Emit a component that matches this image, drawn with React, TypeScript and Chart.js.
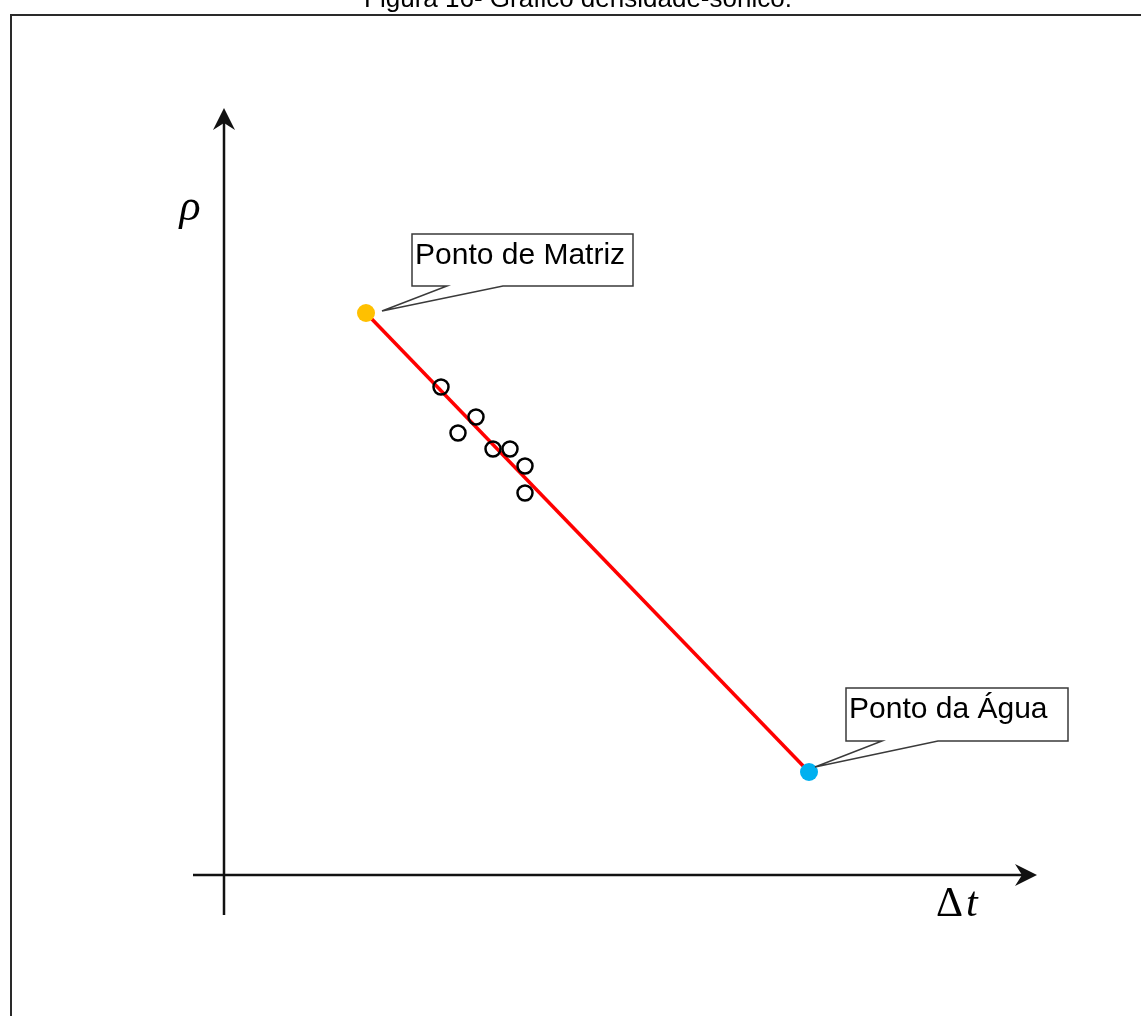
import React, { useEffect, useRef } from "react";
import { Chart, registerables } from "chart.js";

Chart.register(...registerables);

// Data (arbitrary units: Δt on x, ρ on y)
const titleText = "Figura 16- Gráfico densidade-sônico.";
const matrixLabel = "Ponto de Matriz";
const waterLabel = "Ponto da Água";
const yAxisLabel = "ρ";
const xAxisLabelDelta = "Δ";
const xAxisLabelT = "t";

const matrixPoint = [{ x: 14.2, y: 56.2 }];
const waterPoint = [{ x: 58.5, y: 10.3 }];
const sampleX = [21.7, 25.2, 23.4, 26.9, 28.6, 30.1, 30.1];
const sampleY = [48.8, 45.8, 44.2, 42.6, 42.6, 40.9, 38.2];
const xRange = [-3.1, 81.3];
const yRange = [-4.0, 76.7];

export default function App() {
  const canvasRef = useRef<HTMLCanvasElement | null>(null);

  useEffect(() => {
    document.body.style.margin = "0";
    const canvas = canvasRef.current;
    if (!canvas) return;

    const samples = sampleX.map((x, i) => ({ x, y: sampleY[i] }));
    const lineData = [matrixPoint[0], waterPoint[0]];

    const drawArrowHead = (
      ctx: CanvasRenderingContext2D,
      tx: number,
      ty: number,
      dx: number,
      dy: number
    ) => {
      const len = 22;
      const half = 11;
      const notch = 15;
      const px = -dy;
      const py = dx;
      ctx.beginPath();
      ctx.moveTo(tx, ty);
      ctx.lineTo(tx - dx * len + px * half, ty - dy * len + py * half);
      ctx.lineTo(tx - dx * notch, ty - dy * notch);
      ctx.lineTo(tx - dx * len - px * half, ty - dy * len - py * half);
      ctx.closePath();
      ctx.fill();
    };

    const drawCallout = (
      ctx: CanvasRenderingContext2D,
      px: number,
      py: number,
      o: { l: number; t: number; w: number; h: number; b1: number; b2: number; tx: number; ty: number },
      text: string
    ) => {
      const left = px + o.l;
      const top = py + o.t;
      const right = left + o.w;
      const bottom = top + o.h;
      ctx.save();
      ctx.beginPath();
      ctx.moveTo(left, top);
      ctx.lineTo(right, top);
      ctx.lineTo(right, bottom);
      ctx.lineTo(px + o.b2, bottom);
      ctx.lineTo(px + o.tx, py + o.ty);
      ctx.lineTo(px + o.b1, bottom);
      ctx.lineTo(left, bottom);
      ctx.closePath();
      ctx.fillStyle = "#ffffff";
      ctx.fill();
      ctx.strokeStyle = "#3a3a3a";
      ctx.lineWidth = 1.5;
      ctx.stroke();
      ctx.fillStyle = "#000000";
      ctx.font = '30px "Liberation Sans", Arial, sans-serif';
      ctx.textAlign = "left";
      ctx.textBaseline = "alphabetic";
      ctx.fillText(text, left + 3, top + 30);
      ctx.restore();
    };

    const decorPlugin = {
      id: "decor",
      beforeDatasetsDraw(chart: any) {
        const ctx: CanvasRenderingContext2D = chart.ctx;
        const xs = chart.scales.x;
        const ys = chart.scales.y;
        ctx.save();
        // frame
        ctx.strokeStyle = "#2a2a2a";
        ctx.lineWidth = 2;
        ctx.beginPath();
        ctx.moveTo(1200, 15);
        ctx.lineTo(11, 15);
        ctx.lineTo(11, 1100);
        ctx.stroke();
        // title
        ctx.fillStyle = "#000000";
        ctx.font = '26px "Liberation Sans", Arial, sans-serif';
        ctx.textAlign = "center";
        ctx.textBaseline = "alphabetic";
        ctx.fillText(titleText, 578, 7);

        // axes
        const x0 = xs.getPixelForValue(0);
        const y0 = ys.getPixelForValue(0);
        const xMinP = xs.getPixelForValue(xRange[0]);
        const xMaxP = xs.getPixelForValue(xRange[1]);
        const yMinP = ys.getPixelForValue(yRange[0]);
        const yMaxP = ys.getPixelForValue(yRange[1]);
        ctx.strokeStyle = "#111111";
        ctx.fillStyle = "#111111";
        ctx.lineWidth = 2.5;
        ctx.beginPath();
        ctx.moveTo(xMinP, y0);
        ctx.lineTo(xMaxP - 12, y0);
        ctx.moveTo(x0, yMinP);
        ctx.lineTo(x0, yMaxP + 12);
        ctx.stroke();
        drawArrowHead(ctx, xMaxP, y0, 1, 0);
        drawArrowHead(ctx, x0, yMaxP, 0, -1);

        // axis labels
        ctx.fillStyle = "#000000";
        ctx.textAlign = "center";
        ctx.textBaseline = "middle";
        ctx.font = 'italic 44px "Liberation Serif", "DejaVu Serif", serif';
        ctx.fillText(yAxisLabel, x0 - 34, yMaxP + 100);
        ctx.textAlign = "left";
        ctx.font = '42px "Liberation Serif", "DejaVu Serif", serif';
        const dw = ctx.measureText(xAxisLabelDelta).width;
        const lx = xMaxP - 101;
        const ly = y0 + 30;
        ctx.fillText(xAxisLabelDelta, lx, ly);
        ctx.font = 'italic 42px "Liberation Serif", "DejaVu Serif", serif';
        ctx.fillText(xAxisLabelT, lx + dw + 3, ly);
        ctx.restore();
      },
      afterDatasetsDraw(chart: any) {
        const ctx: CanvasRenderingContext2D = chart.ctx;
        const xs = chart.scales.x;
        const ys = chart.scales.y;
        const mx = xs.getPixelForValue(matrixPoint[0].x);
        const my = ys.getPixelForValue(matrixPoint[0].y);
        const wx = xs.getPixelForValue(waterPoint[0].x);
        const wy = ys.getPixelForValue(waterPoint[0].y);
        drawCallout(
          ctx,
          mx,
          my,
          { l: 46, t: -79, w: 221, h: 52, b1: 81, b2: 137, tx: 16, ty: -2 },
          matrixLabel
        );
        drawCallout(
          ctx,
          wx,
          wy,
          { l: 37, t: -84, w: 222, h: 53, b1: 73, b2: 129, tx: 6, ty: -5 },
          waterLabel
        );
      },
    };

    const chart = new Chart(canvas, {
      type: "scatter",
      data: {
        datasets: [
          {
            label: "Amostras",
            data: samples,
            pointStyle: "circle",
            pointRadius: 7.5,
            pointBackgroundColor: "rgba(0,0,0,0)",
            pointBorderColor: "#000000",
            pointBorderWidth: 2.5,
          },
          {
            label: matrixLabel,
            data: matrixPoint,
            pointRadius: 9,
            pointBackgroundColor: "#FFC000",
            pointBorderColor: "#FFC000",
            pointBorderWidth: 0,
          },
          {
            label: waterLabel,
            data: waterPoint,
            pointRadius: 9,
            pointBackgroundColor: "#00B0F0",
            pointBorderColor: "#00B0F0",
            pointBorderWidth: 0,
          },
          {
            label: "Reta",
            data: lineData,
            showLine: true,
            borderColor: "#FF0000",
            borderWidth: 3.5,
            pointRadius: 0,
          } as any,
        ],
      },
      options: {
        responsive: false,
        animation: false,
        events: [],
        layout: { padding: { left: 193, right: 104, top: 108, bottom: 101 } },
        plugins: {
          legend: { display: false },
          tooltip: { enabled: false },
        },
        scales: {
          x: { type: "linear", min: xRange[0], max: xRange[1], display: false },
          y: { type: "linear", min: yRange[0], max: yRange[1], display: false },
        },
      },
      plugins: [decorPlugin],
    });

    return () => chart.destroy();
  }, []);

  return (
    <div style={{ width: 1141, height: 1016, background: "#ffffff" }}>
      <canvas ref={canvasRef} width={1141} height={1016} style={{ display: "block" }} />
    </div>
  );
}
